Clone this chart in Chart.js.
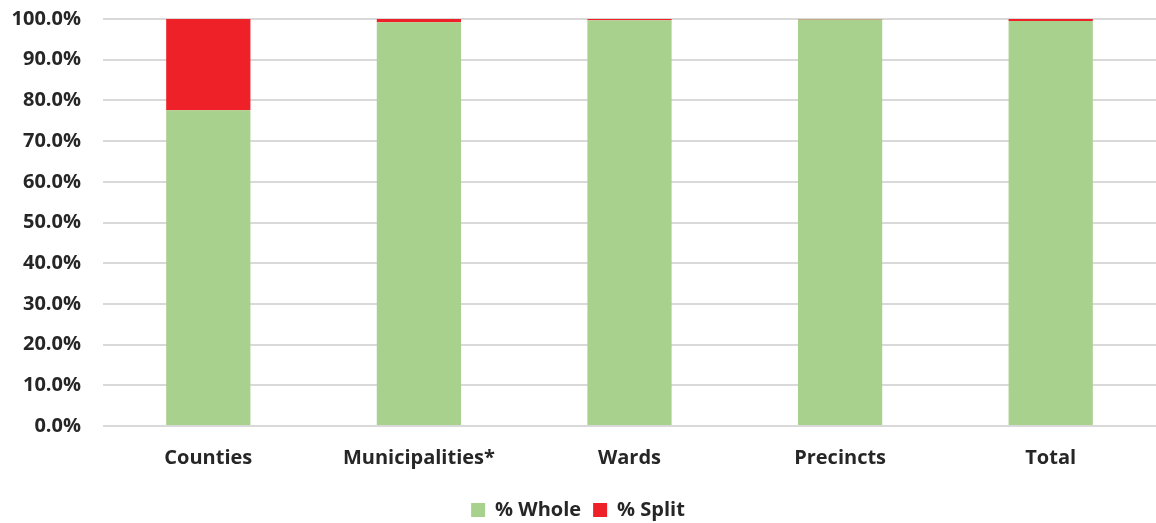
<!DOCTYPE html>
<html>
<head>
<meta charset="utf-8">
<script src="https://cdn.jsdelivr.net/npm/chart.js@4/dist/chart.umd.min.js"></script>
<style>
html,body{margin:0;padding:0;background:#fff;}
#wrap{width:1156px;height:523px;position:relative;}
</style>
</head>
<body>
<div id="wrap"><canvas id="c"></canvas></div>
<script>
const categories = ["Counties", "Municipalities*", "Wards", "Precincts", "Total"];
const wholeValues = [77.6, 99.2, 99.7, 99.85, 99.5];
const splitValues = [22.4, 0.8, 0.3, 0.15, 0.5];
const tickValues = [0, 10, 20, 30, 40, 50, 60, 70, 80, 90, 100];

const fontFamily = "'Open Sans', Lato, sans-serif";
const textColor = "#262626";

new Chart(document.getElementById("c"), {
  type: "bar",
  data: {
    labels: categories,
    datasets: [
      { label: "% Whole", data: wholeValues, backgroundColor: "#A9D18E", borderWidth: 0,
        barPercentage: 0.4, categoryPercentage: 1.0 },
      { label: "% Split", data: splitValues, backgroundColor: "#EE2128", borderWidth: 0,
        barPercentage: 0.4, categoryPercentage: 1.0 }
    ]
  },
  options: {
    responsive: true,
    maintainAspectRatio: false,
    animation: false,
    layout: { padding: { top: 19, right: 0, left: 0, bottom: -7 } },
    scales: {
      x: {
        stacked: true,
        grid: { display: false },
        border: { display: false },
        ticks: { color: textColor, font: { family: fontFamily, size: 20, weight: "bold" }, padding: 12 },
        afterFit: (axis) => { axis.height = 62; axis.paddingLeft = 0; axis.paddingRight = 0; }
      },
      y: {
        stacked: true,
        min: 0, max: 100,
        afterBuildTicks: (axis) => { axis.ticks = tickValues.map(v => ({ value: v })); },
        afterFit: (axis) => { axis.width = 103; axis.paddingTop = 0; axis.paddingBottom = 0; },
        grid: { color: "#D9D9D9", lineWidth: 2, drawTicks: false },
        border: { display: false },
        ticks: {
          color: textColor,
          font: { family: fontFamily, size: 20, weight: "bold" },
          padding: 22,
          callback: (v) => Number(v).toFixed(1) + "%"
        }
      }
    },
    plugins: {
      legend: {
        position: "bottom",
        labels: {
          color: textColor,
          font: { family: fontFamily, size: 20, weight: "bold" },
          boxWidth: 14, boxHeight: 14, padding: 12
        }
      },
      tooltip: { enabled: false }
    }
  }
});
</script>
</body>
</html>
